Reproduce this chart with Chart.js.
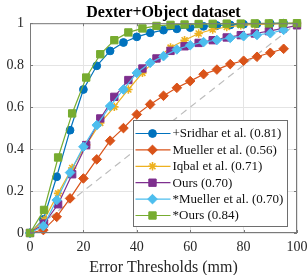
<!DOCTYPE html>
<html>
<head>
<meta charset="utf-8">
<script src="https://cdn.jsdelivr.net/npm/chart.js@4"></script>
<style>
html, body { margin: 0; padding: 0; background: #fff; }
</style>
</head>
<body>
<canvas id="myChart" width="308" height="275"></canvas>
<script>
// error thresholds (mm): two sampling grids are used in the figure
let xStep5 = [0, 5, 10, 15, 20, 25, 30, 35, 40, 45, 50, 55, 60, 65, 70, 75, 80, 85, 90, 95];
let xEven20 = [0, 5.26, 10.53, 15.79, 21.05, 26.32, 31.58, 36.84, 42.11, 47.37, 52.63, 57.89, 63.16, 68.42, 73.68, 78.95, 84.21, 89.47, 94.74, 100];

let seriesLabels = ['+Sridhar et al. (0.81)', 'Mueller et al. (0.56)', 'Iqbal et al. (0.71)', 'Ours (0.70)', '*Mueller et al. (0.70)', '*Ours (0.84)'];

let sridhar = [0, 0.065, 0.268, 0.49, 0.684, 0.797, 0.868, 0.908, 0.935, 0.954, 0.967, 0.973, 0.979, 0.985, 0.989, 0.992, 0.995, 0.997, 0.998, 1.0];
let mueller = [0, 0.014, 0.077, 0.165, 0.26, 0.351, 0.44, 0.5, 0.565, 0.613, 0.654, 0.692, 0.724, 0.757, 0.779, 0.805, 0.821, 0.84, 0.859, 0.878];
let iqbal = [0, 0.062, 0.189, 0.31, 0.42, 0.525, 0.601, 0.684, 0.763, 0.83, 0.884, 0.919, 0.951, 0.97, 0.982, 0.99, 0.994, 0.996, 0.998, 0.999];
let ours = [0, 0.045, 0.137, 0.28, 0.419, 0.546, 0.649, 0.729, 0.784, 0.832, 0.868, 0.89, 0.906, 0.919, 0.932, 0.943, 0.951, 0.962, 0.975, 0.99];
let muellerStar = [0, 0.033, 0.157, 0.288, 0.411, 0.514, 0.605, 0.684, 0.763, 0.811, 0.843, 0.875, 0.895, 0.91, 0.92, 0.93, 0.938, 0.944, 0.952, 0.968];
let oursStar = [0, 0.11, 0.36, 0.57, 0.741, 0.852, 0.919, 0.956, 0.975, 0.987, 0.992, 0.994, 0.996, 0.997, 0.998, 0.998, 0.999, 0.999, 1.0, 1.0];

let diagX = [0, 100];
let diagY = [0, 1];

let xTicks = [0, 20, 40, 60, 80, 100];
let yTicks = [0, 0.2, 0.4, 0.6, 0.8, 1];

const serif = "'Liberation Serif', 'DejaVu Serif', serif";
Chart.defaults.font.family = serif;

const styles = [
    { xs: xStep5, ys: sridhar, color: '#0072BD', point: 'circle', r: 3.9 },
    { xs: xStep5, ys: mueller, color: '#D95319', point: 'rectRot', r: 4.8 },
    { xs: xEven20, ys: iqbal, color: '#EDB120', point: 'star', r: 4.2 },
    { xs: xEven20, ys: ours, color: '#7E2F8E', point: 'rect', r: 5.2 },
    { xs: xStep5, ys: muellerStar, color: '#4DBEEE', point: 'rectRot', r: 4.8 },
    { xs: xEven20, ys: oursStar, color: '#77AC30', point: 'rect', r: 5.2 }
];

let datasets = styles.map((s, i) => ({
    label: seriesLabels[i],
    data: s.ys.map((v, j) => ({ x: s.xs[j], y: v })),
    borderColor: s.color,
    backgroundColor: s.color,
    pointBackgroundColor: s.color,
    pointBorderColor: s.color,
    pointStyle: s.point,
    pointRadius: s.r,
    pointBorderWidth: s.point == 'star' ? 1.6 : 1,
    borderWidth: 1.2,
    tension: 0,
    clip: false,
    order: styles.length - i
}));

datasets.push({
    label: 'diagonal',
    data: diagX.map((v, j) => ({ x: v, y: diagY[j] })),
    borderColor: '#bcbcbc',
    borderDash: [7, 5],
    borderWidth: 1.2,
    pointRadius: 0,
    order: 20
});

// box around the axes, inward ticks, and a boxed legend in the lower right
const boxLegend = {
    id: 'boxLegend',
    afterDatasetsDraw(chart) {
        const ctx = chart.ctx;
        const a = chart.chartArea;
        const sx = chart.scales.x, sy = chart.scales.y;
        ctx.save();
        ctx.strokeStyle = '#7a7a7a';
        ctx.lineWidth = 1;
        ctx.strokeRect(a.left + 0.5, a.top + 0.5, a.right - a.left - 1, a.bottom - a.top - 1);
        ctx.beginPath();
        xTicks.forEach(t => {
            const px = Math.round(sx.getPixelForValue(t)) + 0.5;
            ctx.moveTo(px, a.bottom); ctx.lineTo(px, a.bottom - 3);
            ctx.moveTo(px, a.top); ctx.lineTo(px, a.top + 3);
        });
        yTicks.forEach(t => {
            const py = Math.round(sy.getPixelForValue(t)) + 0.5;
            ctx.moveTo(a.left, py); ctx.lineTo(a.left + 3, py);
            ctx.moveTo(a.right, py); ctx.lineTo(a.right - 3, py);
        });
        ctx.stroke();

        const w = 154, rowH = 16.4, h = 106;
        const left = Math.round(a.right - 10 - w) + 0.5;
        const top = Math.round(a.bottom - 7 - h) + 0.5;
        ctx.fillStyle = '#fff';
        ctx.fillRect(left, top, w, h);
        ctx.strokeStyle = '#6e6e6e';
        ctx.strokeRect(left, top, w, h);

        ctx.font = '13px ' + serif;
        ctx.textBaseline = 'middle';
        ctx.textAlign = 'left';
        seriesLabels.forEach((lab, i) => {
            const ds = chart.data.datasets[i];
            const y = top + 13 + i * rowH;
            ctx.strokeStyle = ds.borderColor;
            ctx.lineWidth = 1.2;
            ctx.beginPath();
            ctx.moveTo(left + 2, y);
            ctx.lineTo(left + 37, y);
            ctx.stroke();
            ctx.fillStyle = ds.backgroundColor;
            ctx.lineWidth = ds.pointBorderWidth;
            Chart.helpers.drawPoint(ctx, { pointStyle: ds.pointStyle, radius: ds.pointRadius, borderWidth: ds.pointBorderWidth, rotation: 0 }, left + 19, y);
            ctx.fillStyle = '#111';
            ctx.fillText(lab, left + 39, y + 0.5);
        });
        ctx.restore();
    }
};

var ctx = document.getElementById('myChart').getContext('2d');
var chart = new Chart(ctx, {
    type: 'line',
    data: { datasets: datasets },
    plugins: [boxLegend],
    options: {
        responsive: false,
        animation: false,
        layout: { padding: { top: 0, right: 11, bottom: 0, left: 0 } },
        plugins: {
            legend: { display: false },
            tooltip: { enabled: false },
            title: {
                display: true,
                fullSize: false,
                text: 'Dexter+Object dataset',
                color: '#000',
                font: { family: serif, size: 16, weight: 'bold' },
                padding: { top: 3, bottom: 1 }
            }
        },
        scales: {
            x: {
                type: 'linear',
                min: 0,
                max: 100,
                afterBuildTicks: s => { s.ticks = xTicks.map(v => ({ value: v })); },
                ticks: { color: '#262626', font: { size: 14 }, padding: 6, maxRotation: 0, callback: v => String(v) },
                grid: { color: '#e4e4e4', drawTicks: false },
                border: { display: false },
                title: {
                    display: true,
                    text: 'Error Thresholds (mm)',
                    color: '#262626',
                    font: { size: 16, lineHeight: 0.9 },
                    padding: { top: 0, bottom: 0 }
                },
                afterFit: s => { s.height = 42; s.paddingLeft = 0; s.paddingRight = 0; }
            },
            y: {
                min: 0,
                max: 1,
                afterBuildTicks: s => { s.ticks = yTicks.map(v => ({ value: v })); },
                ticks: { color: '#262626', font: { size: 14 }, padding: 6, callback: v => String(v) },
                grid: { color: '#e4e4e4', drawTicks: false },
                border: { display: false },
                afterFit: s => { s.width = 30; s.paddingTop = 0; s.paddingBottom = 0; }
            }
        }
    }
});
</script>
</body>
</html>
